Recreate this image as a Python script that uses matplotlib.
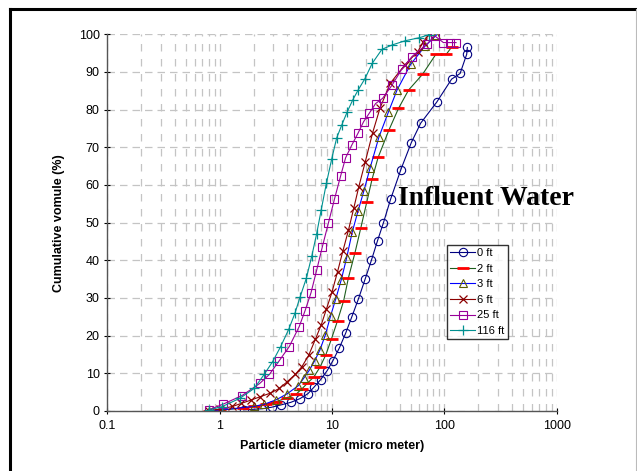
import matplotlib
matplotlib.use("Agg")
import matplotlib.pyplot as plt
from matplotlib.lines import Line2D
from matplotlib.ticker import FixedLocator, NullFormatter
import numpy as np

plt.rcParams['font.family'] = ['Liberation Sans', 'DejaVu Sans']

# cumulative volume (%) vs particle diameter (micro meter)
x_0ft = [1.63, 2.4, 2.9, 3.5, 4.3, 5.2, 6.1, 6.9, 7.9, 9.0, 10.2, 11.6, 13.2, 15.0,
         17.2, 19.7, 22.4, 25.4, 28.7, 33.2, 41.0, 50.7, 61.5, 85.5, 116, 138, 158, 160]
y_0ft = [0.3, 0.6, 1.0, 1.6, 2.3, 3.3, 4.6, 6.3, 8.3, 10.6, 13.4, 16.7, 20.6, 25.0,
         29.8, 35.0, 40.0, 45.2, 50.0, 56.2, 64.1, 71.2, 76.4, 82.0, 88.1, 89.6, 94.7, 96.5]

x_2ft = [0.8, 1.0, 1.6, 2.0, 2.6, 3.2, 3.95, 4.8, 5.4, 6.1, 6.9, 7.8, 8.8, 9.9, 11.2,
         12.7, 14.0, 16.0, 18.0, 20.4, 22.7, 25.7, 32.0, 39.0, 48.0, 64.0, 84, 104, 116]
y_2ft = [0, 0.2, 0.8, 1.2, 1.8, 2.5, 3.5, 4.5, 5.9, 7.5, 9.1, 11.6, 14.9, 19.2, 24.0,
         29.3, 35.4, 42.0, 48.5, 55.5, 61.5, 67.3, 74.5, 80.3, 85.2, 89.4, 94.7, 94.7, 96.6]

x_3ft = [0.8, 1.04, 2.0, 2.5, 3.2, 4.0, 5.0, 5.6, 6.3, 7.0, 7.8, 8.7, 9.7, 10.8, 12.1,
         13.5, 15.1, 17.0, 19.2, 21.8, 26.2, 31.7, 37.9, 50, 67, 85]
y_3ft = [0, 0.3, 1.2, 1.8, 3.0, 4.6, 6.7, 8.7, 10.9, 13.3, 16.2, 20.1, 25.2, 29.8, 34.9,
         40.7, 47.4, 53.0, 58.4, 64.5, 72.8, 79.3, 85.2, 92.0, 96.8, 99.8]

x_6ft = [0.8, 1.0, 1.3, 1.55, 1.9, 2.3, 2.8, 3.4, 4.0, 4.7, 5.4, 6.2, 7.1, 8.0, 8.9, 10.0,
         11.2, 12.5, 14.0, 15.6, 17.3, 19.7, 23.0, 26.8, 33.0, 44.5, 58, 65, 73]
y_6ft = [0, 0.5, 1.2, 2.0, 2.9, 3.8, 4.7, 6.0, 7.8, 9.7, 11.8, 14.8, 19.0, 22.8, 27.0, 31.6,
         37.0, 42.5, 48.0, 53.8, 59.5, 66.0, 73.9, 80.5, 87.0, 91.9, 95.4, 98.0, 100]

x_25ft = [0.8, 1.07, 1.58, 2.27, 2.77, 3.38, 4.16, 5.1, 5.75, 6.5, 7.3, 8.2, 9.3, 10.5, 11.9,
          13.2, 15.0, 17.0, 19.1, 21.4, 24.4, 28.2, 34.2, 41.7, 51.5, 70, 82, 98, 112, 127]
y_25ft = [0.3, 1.8, 4.1, 7.3, 9.7, 13.3, 17.1, 22.4, 26.6, 31.4, 37.4, 43.6, 50.0, 56.2, 62.3,
          67.2, 70.6, 73.7, 76.8, 79.0, 81.6, 83.0, 86.5, 90.7, 94.1, 97.4, 99.6, 97.8, 97.8, 97.8]

x_116ft = [0.8, 1.04, 1.52, 2.03, 2.5, 2.96, 3.49, 4.12, 4.67, 5.2, 5.9, 6.6, 7.3, 8.0, 8.9,
           9.95, 11.0, 12.2, 13.6, 15.3, 17.0, 19.6, 22.8, 27.8, 34.5, 45, 60, 73]
y_116ft = [0.3, 1.1, 3.4, 6.0, 9.8, 13.1, 17.1, 21.7, 25.9, 30.3, 35.2, 41.1, 47.1, 53.3, 60.4,
           67.0, 72.5, 75.9, 79.3, 82.6, 85.1, 88.2, 92.3, 96.0, 97.2, 98.3, 99.1, 99.9]

fig = plt.figure(figsize=(6.37, 4.71), dpi=100)
ax = fig.add_axes([0.1685, 0.1274, 0.7055, 0.7998])

ax.plot(x_0ft, y_0ft, color='#000080', lw=0.8, marker='o', ms=6, mfc='none',
        mec='#000080', mew=0.8, label='0 ft')
ax.plot(x_2ft, y_2ft, color='#1E5E1E', lw=0.8, marker='_', ms=8, mec='#FF0000',
        mew=2.0, label='2 ft')
ax.plot(x_3ft, y_3ft, color='#0000FF', lw=0.8, marker='^', ms=6, mfc='none',
        mec='#5C5C00', mew=0.8, label='3 ft')
ax.plot(x_6ft, y_6ft, color='#8B0000', lw=0.8, marker='x', ms=6, mec='#8B0000',
        mew=0.9, label='6 ft')
ax.plot(x_25ft, y_25ft, color='#990099', lw=0.8, marker='s', ms=5.5, mfc='none',
        mec='#990099', mew=0.8, label='25 ft')
ax.plot(x_116ft, y_116ft, color='#009090', lw=0.8, marker='+', ms=7, mec='#009090',
        mew=0.9, label='116 ft')

ax.set_xscale('log')
ax.set_xlim(0.1, 1000)
ax.set_ylim(0, 100)
ax.set_xticks([0.1, 1, 10, 100, 1000])
ax.set_xticklabels(['0.1', '1', '10', '100', '1000'])
ax.set_yticks(np.arange(0, 101, 10))

# vertical grid at every 1..9 x decade, horizontal every 10
grid_x = [m * 10.0 ** e for e in range(-1, 3) for m in range(1, 10)] + [1000]
ax.xaxis.set_minor_locator(FixedLocator(grid_x))
ax.xaxis.set_minor_formatter(NullFormatter())
ax.tick_params(axis='x', which='minor', length=0)
ax.grid(True, axis='x', which='both', color='#C4C4C4', lw=0.9, linestyle=(0, (6, 6)))
ax.grid(True, axis='y', which='major', color='#C4C4C4', lw=0.9, linestyle=(0, (6, 4)))
ax.set_axisbelow(True)

for side in ['top', 'right']:
    ax.spines[side].set_visible(False)
for side in ['left', 'bottom']:
    ax.spines[side].set_color('#555555')
    ax.spines[side].set_linewidth(1.0)

ax.tick_params(axis='y', which='major', direction='inout', length=5, labelsize=9, pad=3)
ax.tick_params(axis='x', which='major', direction='inout', length=5, labelsize=9, pad=4)

ax.set_xlabel('Particle diameter (micro meter)', fontsize=9, fontweight='bold', labelpad=6)
ax.set_ylabel('Cumulative vomule (%)', fontsize=9, fontweight='bold', labelpad=10)

ax.text(39, 56.4, 'Influent Water', fontsize=20, fontweight='bold',
        family=['Liberation Serif', 'DejaVu Serif'], ha='left', va='center', clip_on=False)

leg = ax.legend(loc='upper left', bbox_to_anchor=(0.756, 0.441), borderaxespad=0,
                fontsize=8, frameon=True, fancybox=False, handlelength=2.2,
                handletextpad=0.2, labelspacing=0.5, borderpad=0.3)
leg.get_frame().set_edgecolor('black')
leg.get_frame().set_linewidth(1.0)

# outer frame of the picture
fig.add_artist(Line2D([10 / 637, 636 / 637], [1 - 9 / 471, 1 - 9 / 471],
                      transform=fig.transFigure, color='black', lw=2.2))
fig.add_artist(Line2D([10 / 637, 10 / 637], [0, 1 - 9 / 471],
                      transform=fig.transFigure, color='black', lw=2.2))
fig.add_artist(Line2D([636 / 637, 636 / 637], [0, 1 - 9 / 471],
                      transform=fig.transFigure, color='#BBBBBB', lw=0.8))

fig.savefig('out.png', dpi=100)
